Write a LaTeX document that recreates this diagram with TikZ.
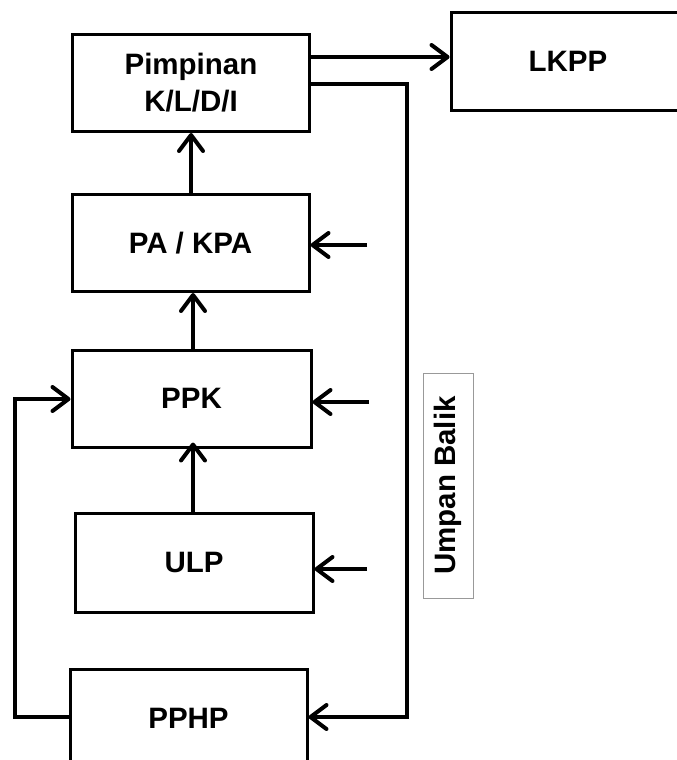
\documentclass[tikz,border=0pt]{standalone}
\usepackage{fontspec}
\setmainfont{Liberation Sans}
\usetikzlibrary{arrows.meta}
\begin{document}
\begin{tikzpicture}[x=1pt,y=-1pt,
  box/.style={draw=black, line width=3pt, fill=white, font=\fontsize{29.5}{37}\selectfont\bfseries,
    align=center, inner sep=0pt, minimum width=237pt, minimum height=97pt},
  flow/.style={line width=4pt, line join=miter, -{Straight Barb[length=16pt,width=24pt,line width=4pt,round]}},
  plain/.style={line width=4pt, line join=miter}]
\useasboundingbox (0,0) rectangle (677,760);
\fill[white] (0,0) rectangle (677,760);

% boxes of the procurement chain
\node[box] (pim)  at (191,83)    {Pimpinan\\K/L/D/I};
\node[box, minimum width=234pt] (lkpp) at (568,61.5) {LKPP};
\node[box] (pa)   at (190.5,243) {PA / KPA};
\node[box, minimum width=239pt] (ppk)  at (191.5,398.5) {PPK};
\node[box, minimum width=238pt, minimum height=99pt] (ulp)  at (194,562.5) {ULP};
\node[box] (pphp) at (188.5,718) {PPHP};

% feedback label
\node[draw=black!40, line width=0.8pt, minimum width=50pt, minimum height=225pt, inner sep=0pt] (ub) at (448,485.5) {};
\node[rotate=90, font=\fontsize{29.5}{32}\selectfont\bfseries] (ubt) at (ub.center) {Umpan Balik};

% upward reporting
\draw[flow] (pa.north -| pim.south) -- (pim.south);
\draw[flow] (ppk.north) ++(1.5,0) coordinate (ppkn) -- (ppkn |- pa.south);
\draw[flow] (ulp.north) ++(-1,0) coordinate (ulpn) -- ([yshift=6pt]ulpn |- ppk.south);

% report to LKPP
\draw[flow] (pim.east |- 0,57) -- (lkpp.west |- 0,57);

% short inputs from the feedback side
\coordinate (inpa)  at (367,245);
\coordinate (inppk) at (369,402);
\coordinate (inulp) at (367,569);
\draw[flow] (inpa)  -- (pa.east |- inpa);
\draw[flow] (inppk) -- (ppk.east |- inppk);
\draw[flow] (inulp) -- (ulp.east |- inulp);

% feedback loop down to PPHP
\coordinate (fbtop) at (407,84);
\coordinate (fbbot) at (407,717);
\draw[flow] (pim.east |- fbtop) -- (fbtop) -- (fbbot) -- (pphp.east |- fbbot);

% PPHP back to PPK
\coordinate (lbot) at (15,717);
\coordinate (ltop) at (15,399);
\draw[flow] (pphp.west |- lbot) -- (lbot) -- (ltop) -- (ppk.west |- ltop);
\end{tikzpicture}
\end{document}
